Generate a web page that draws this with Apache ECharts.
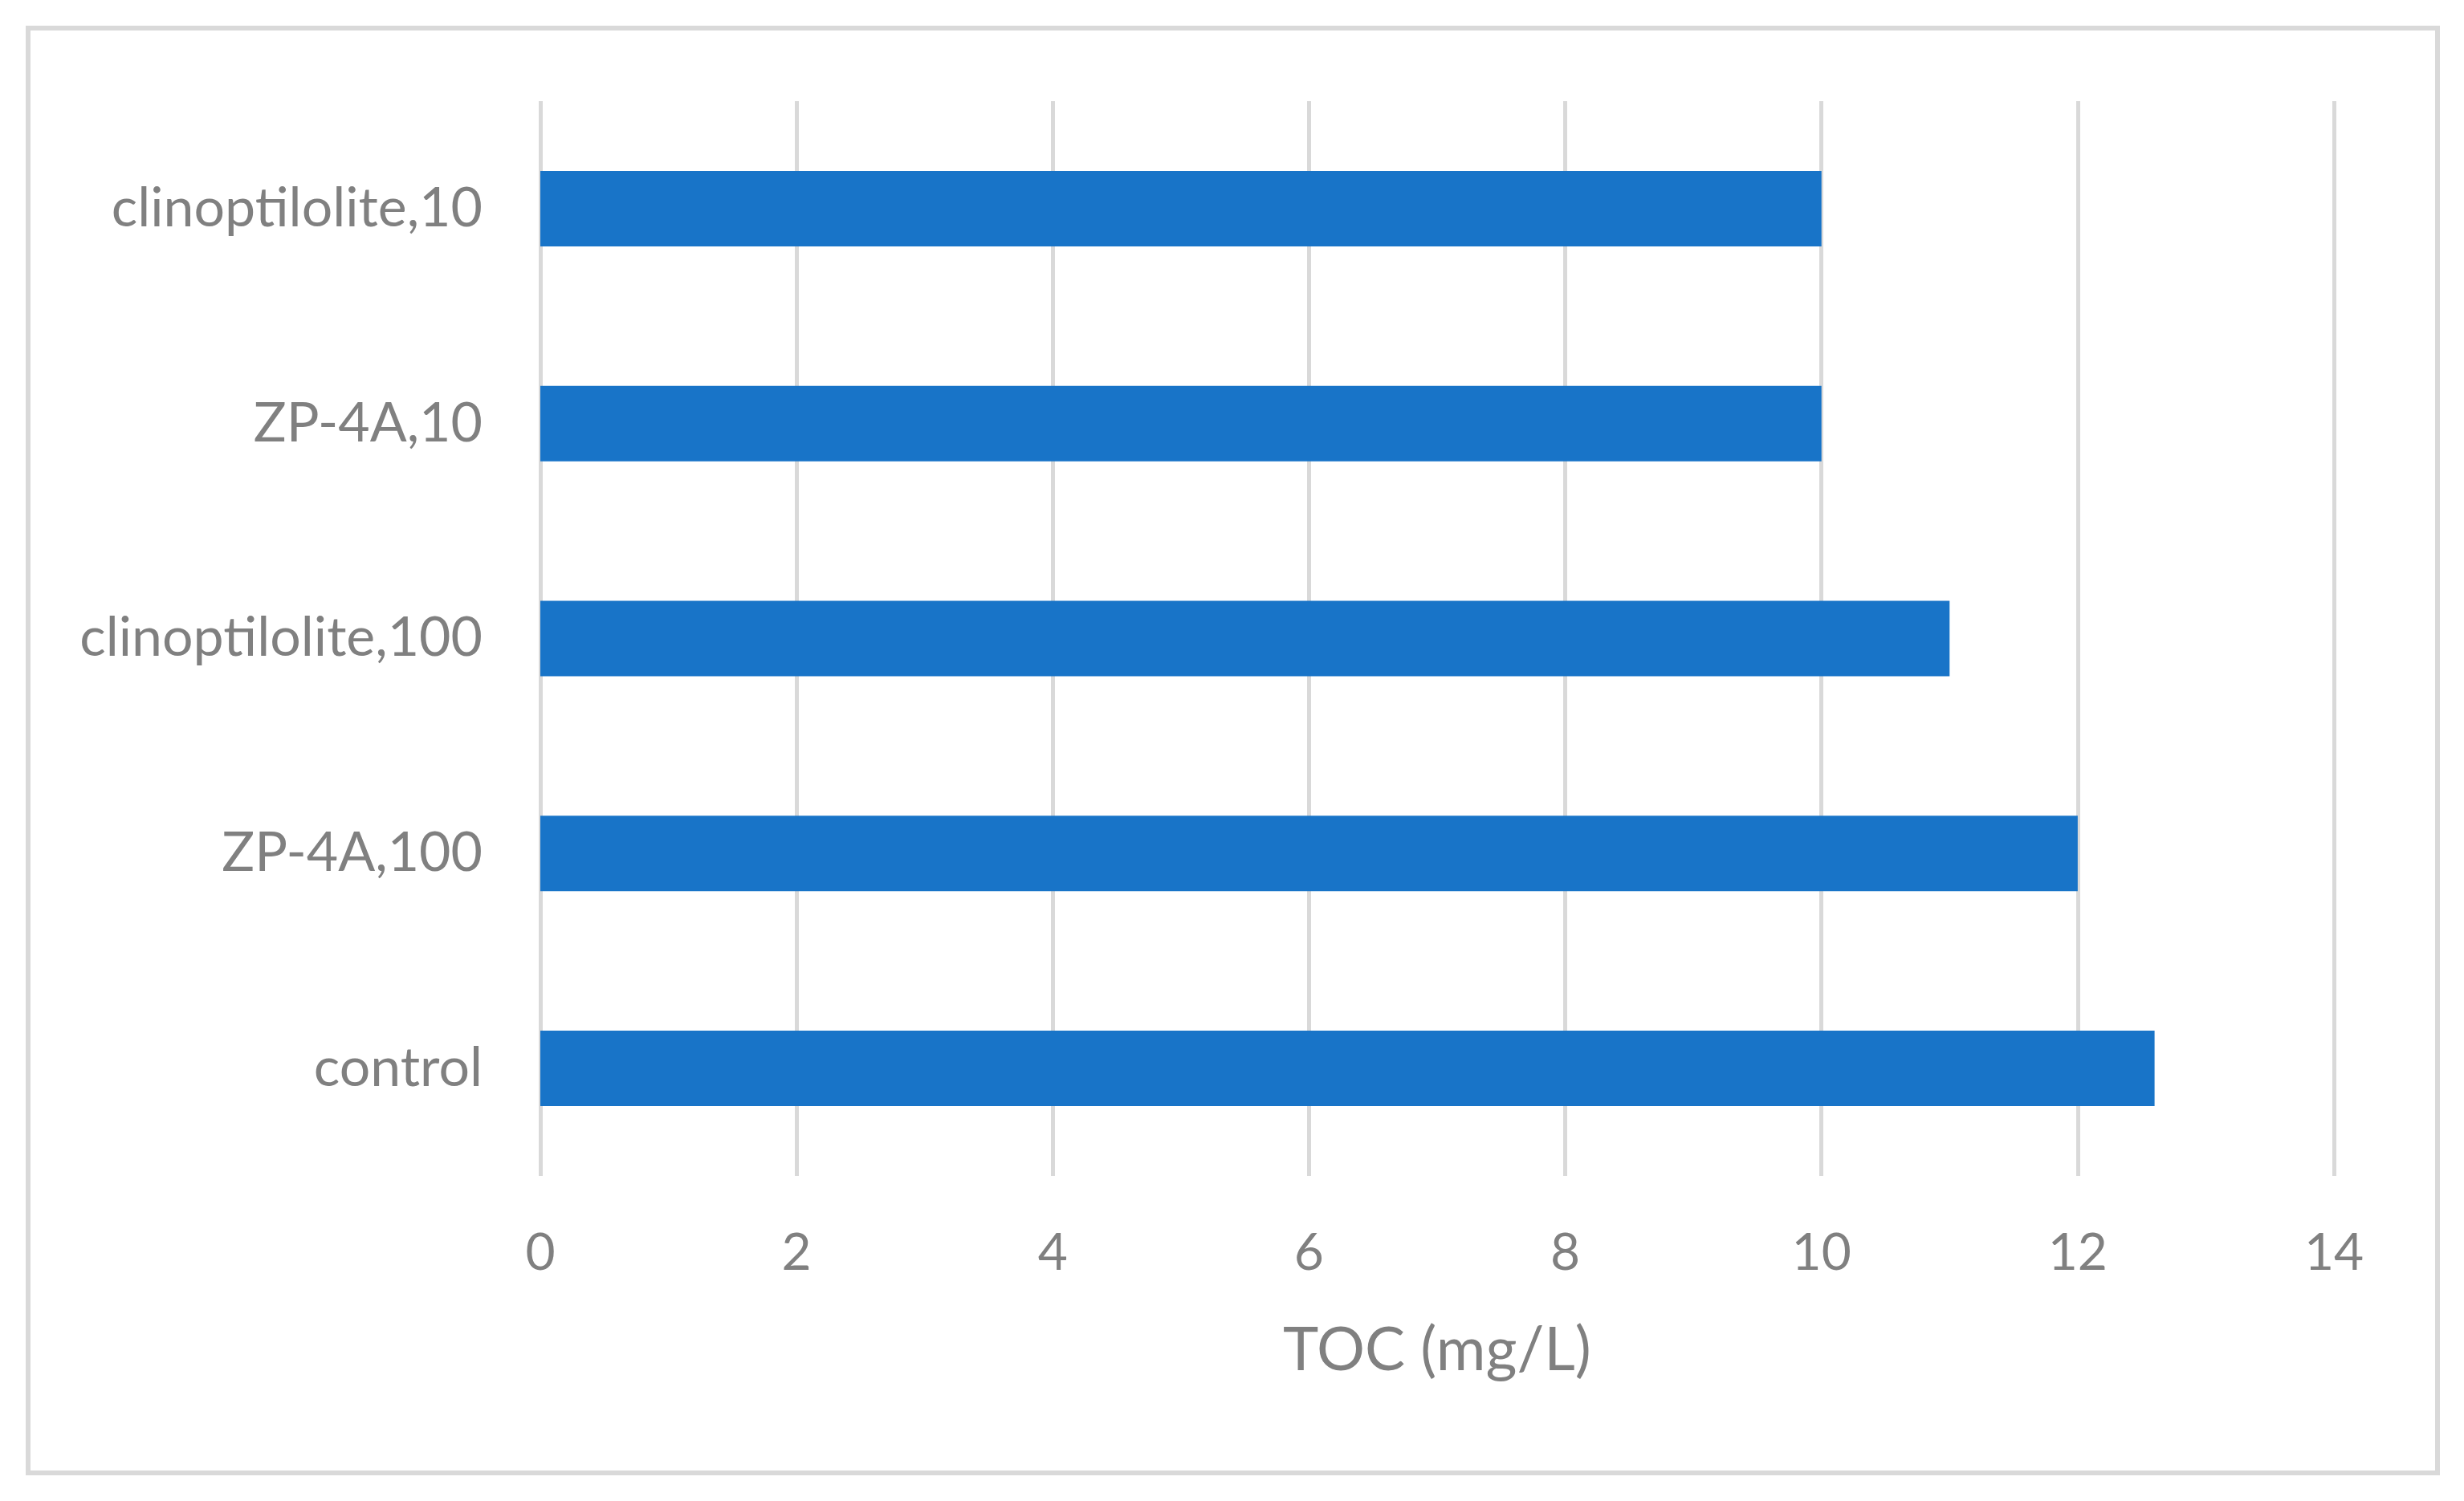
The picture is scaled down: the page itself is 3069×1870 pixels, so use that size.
<!DOCTYPE html>
<html>
<head>
<meta charset="utf-8">
<script src="https://cdn.jsdelivr.net/npm/echarts@6/dist/echarts.min.js"></script>
<style>
  html, body { margin: 0; padding: 0; background: #ffffff; }
  #chart { width: 3069px; height: 1870px; }
</style>
</head>
<body>
<div id="chart"></div>
<script>
// categories, top to bottom as in the picture
const categories = ['clinoptilolite,10', 'ZP-4A,10', 'clinoptilolite,100', 'ZP-4A,100', 'control']
const tocValues = [10, 10, 11, 12, 12.6]
const axisName = 'TOC (mg/L)'

const textGray = '#808080'
const fontName = 'Lato'

let myChart = echarts.init(document.getElementById('chart'))
let option = {
  backgroundColor: '#ffffff',
  animation: false,
  // outer frame
  graphic: [{
    type: 'rect',
    shape: { x: 35, y: 35, width: 3001, height: 1800 },
    style: { fill: 'none', stroke: '#d9d9d9', lineWidth: 6 }
  }],
  grid: {
    left: 673,
    right: 162,
    top: 126,
    bottom: 405
  },
  xAxis: {
    type: 'value',
    min: 0,
    max: 14,
    interval: 2,
    name: axisName,
    nameLocation: 'middle',
    nameGap: 218,
    nameTextStyle: {
      color: textGray,
      fontFamily: fontName,
      fontSize: 75,
      verticalAlign: 'middle'
    },
    axisLine: { show: false },
    axisTick: { show: false },
    axisLabel: {
      color: textGray,
      fontFamily: fontName,
      fontSize: 64,
      margin: 64
    },
    splitLine: {
      show: true,
      lineStyle: { color: '#d9d9d9', width: 5 }
    }
  },
  yAxis: {
    type: 'category',
    data: categories,
    inverse: true,
    axisLine: { show: false },
    axisTick: { show: false },
    axisLabel: {
      color: textGray,
      fontFamily: fontName,
      fontSize: 68,
      margin: 72
    }
  },
  series: [{
    type: 'bar',
    data: tocValues,
    barWidth: 94,
    itemStyle: { color: '#1874c8' }
  }]
}
myChart.setOption(option)
</script>
</body>
</html>
